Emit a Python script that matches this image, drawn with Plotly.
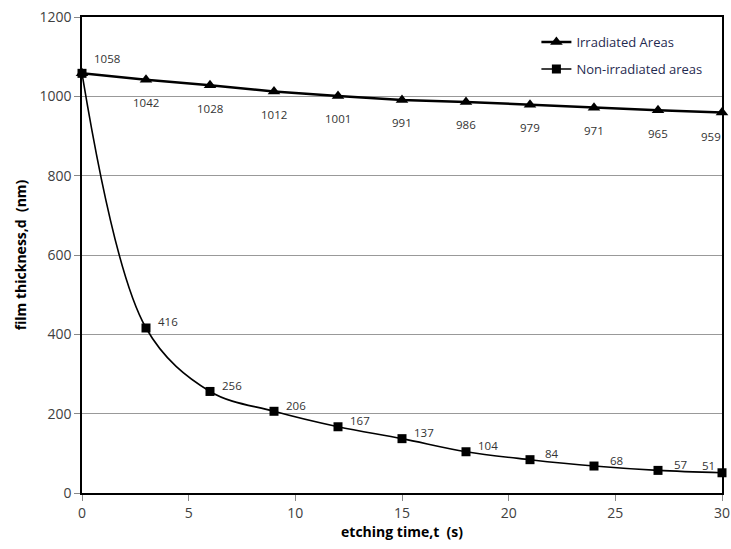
import plotly.graph_objects as go

t = [0, 3, 6, 9, 12, 15, 18, 21, 24, 27, 30]
irradiated = [1058, 1042, 1028, 1012, 1001, 991, 986, 979, 971, 965, 959]
non_irradiated = [1058, 416, 256, 206, 167, 137, 104, 84, 68, 57, 51]

font_family = "Open Sans, Noto Sans, sans-serif"
lbl_color = "#333333"

fig = go.Figure()
fig.add_trace(go.Scatter(
    x=t, y=irradiated, name="Irradiated Areas",
    mode="lines+markers",
    line=dict(color="black", width=2.5),
    marker=dict(symbol="triangle-up", size=11, color="black"),
    cliponaxis=False, legend="legend",
))
fig.add_trace(go.Scatter(
    x=t, y=non_irradiated, name="Non-irradiated areas",
    mode="lines+markers",
    line=dict(color="black", width=1.6, shape="spline", smoothing=1.0),
    marker=dict(symbol="square", size=9, color="black"),
    cliponaxis=False, legend="legend2",
))

annotations = []
n = len(t)
for i, (x, y) in enumerate(zip(t, irradiated)):
    if i == 0:
        xs, ys = 25, 15
    elif i == n - 1:
        xs, ys = -11, -24
    else:
        xs, ys = 0, -23
    annotations.append(dict(x=x, y=y, text=str(y), showarrow=False,
                            xshift=xs, yshift=ys,
                            font=dict(size=11.5, color=lbl_color, family=font_family)))
for i, (x, y) in enumerate(zip(t, non_irradiated)):
    if i == 0:
        continue
    if i == n - 1:
        xs, ys = -14, 7
    else:
        xs, ys = 22, 6
    annotations.append(dict(x=x, y=y, text=str(y), showarrow=False,
                            xshift=xs, yshift=ys,
                            font=dict(size=11.5, color=lbl_color, family=font_family)))

legend_style = dict(xanchor="left", yanchor="middle", bgcolor="rgba(0,0,0,0)",
                    font=dict(size=13, color="#1f2a50"), itemwidth=30)

fig.update_layout(
    width=731, height=549,
    margin=dict(l=82, r=9, t=17, b=56),
    paper_bgcolor="white", plot_bgcolor="white",
    font=dict(family=font_family, color="#404040", size=14),
    showlegend=True,
    annotations=annotations,
    legend=dict(x=0.71, y=0.9475, **legend_style),
    legend2=dict(x=0.71, y=0.8908, **legend_style),
)
fig.update_xaxes(
    range=[0, 30], tickvals=[0, 5, 10, 15, 20, 25, 30], automargin=False,
    showgrid=False, showline=True, linecolor="black", linewidth=1.5, mirror=True,
    ticks="outside", ticklen=6, tickcolor="#888", zeroline=False,
    title=dict(text="<b>etching time,t  (s)</b>", font=dict(size=14, color="black"), standoff=6),
)
fig.update_yaxes(
    range=[0, 1200], tickvals=[0, 200, 400, 600, 800, 1000, 1200], automargin=False,
    showgrid=True, gridcolor="#999", gridwidth=1,
    showline=True, linecolor="black", linewidth=1.5, mirror=True,
    ticks="outside", ticklen=6, tickcolor="#888", zeroline=False,
    title=dict(text="<b>film thickness,d  (nm)</b>", font=dict(size=14, color="black"), standoff=10),
)

fig.write_html("out.html")
